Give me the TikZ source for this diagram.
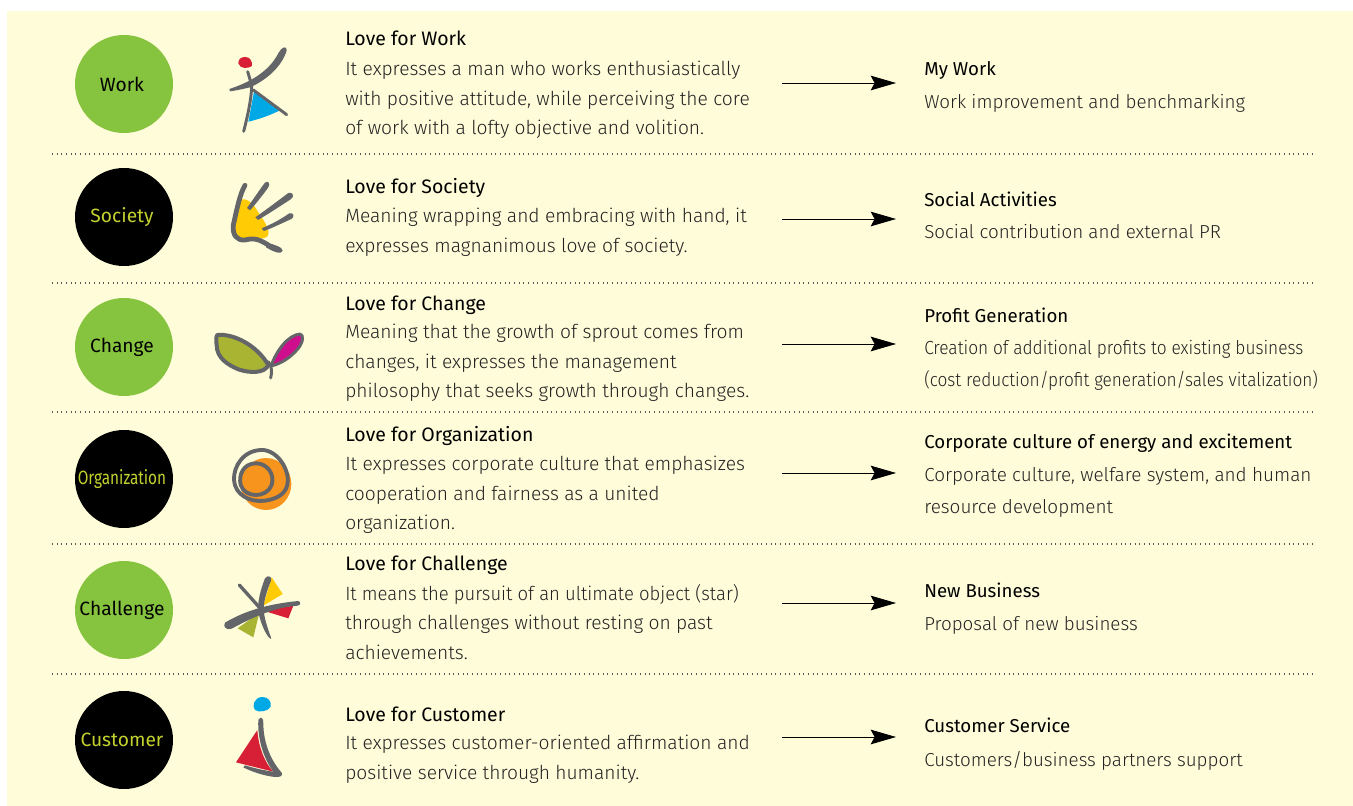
\documentclass[tikz,border=0pt]{standalone}
\usepackage{fontspec}
\setmainfont{Fira Sans}
\newfontfamily\lightfont{Fira Sans Light}
\usetikzlibrary{positioning,arrows.meta}
\definecolor{cream}{HTML}{FEFCD9}
\definecolor{leafgreen}{HTML}{86C440}
\definecolor{limetext}{HTML}{C3D12F}
\definecolor{inkgrey}{HTML}{636569}
\definecolor{skyblue}{HTML}{00A9E6}
\definecolor{redfill}{HTML}{D71F35}
\definecolor{sunyellow}{HTML}{FFCB05}
\definecolor{olivefill}{HTML}{A8B432}
\definecolor{magentafill}{HTML}{CE0E8C}
\definecolor{orangefill}{HTML}{F7941E}
\definecolor{bodytext}{HTML}{222222}
\begin{document}
\begin{tikzpicture}[x=.75pt,y=-.75pt,
  value/.style={circle,minimum size=73.5pt,inner sep=0pt,font=\fontsize{14.4}{16}\selectfont},
  greenvalue/.style={value,fill=leafgreen,text=black},
  blackvalue/.style={value,fill=black,text=limetext},
  title/.style={anchor=base west,inner sep=0pt,text=black,font=\fontsize{14.6}{16}\selectfont},
  titleright/.style={title,font=\fontsize{14}{16}\selectfont},
  body/.style={anchor=north west,inner sep=0pt,align=left,text=bodytext,font=\lightfont\fontsize{14.4}{22}\selectfont},
  bodyright/.style={body,font=\lightfont\fontsize{14.1}{22}\selectfont},
  bodywide/.style={body,font=\lightfont\fontsize{14.2}{24.3}\selectfont},
  sep/.style={dash pattern=on .8pt off 2.7pt,line width=.8pt,draw=black!65},
  link/.style={-{Stealth[length=19pt,width=11pt,inset=3pt]},line width=.6pt}]
\useasboundingbox (0,0) rectangle (1353,806);
\fill[cream] (7,11) rectangle (1353,806);
% values
\foreach \n/\lab/\y/\kind in {Work/Work/84/greenvalue,Society/Society/217/blackvalue,Change/Change/347/greenvalue,Organization/\scalebox{.8}[1]{Organization}/479/blackvalue,Challenge/Challenge/610/greenvalue,Customer/Customer/740/blackvalue} {
  \node[\kind] (\n) at (124,\y) {\lab\kern3pt};
}
% separators
\foreach \i/\y in {1/154,2/283,3/412,4/544,5/674} {
  \coordinate (S\i) at (52,\y);
  \coordinate (E\i) at (1314,\y);
  \draw[sep] (S\i) -- (E\i);
}
% arrows
\foreach \i/\y in {1/83,2/219,3/344,4/473,5/603,6/737} {
  \coordinate (A\i) at (782,\y);
  \coordinate (B\i) at (896,\y);
  \draw[link] (A\i) -- (B\i);
}
% middle column
\node[title] (T1) at (345,46) {Love for Work};
\node[body] (D1) at (345,61) {It expresses a man who works enthusiastically\\with positive attitude, while perceiving the core\\of work with a lofty objective and volition.};
\node[title] (T2) at (345,194) {Love for Society};
\node[body] (D2) at (345,208) {Meaning wrapping and embracing with hand, it\\expresses magnanimous love of society.};
\node[title] (T3) at (345,310) {Love for Change};
\node[body] (D3) at (345,324) {Meaning that the growth of sprout comes from\\changes, it expresses the management\\philosophy that seeks growth through changes.};
\node[title] (T4) at (345,441) {Love for Organization};
\node[body] (D4) at (345,456) {It expresses corporate culture that emphasizes\\cooperation and fairness as a united\\organization.};
\node[title] (T5) at (345,570) {Love for Challenge};
\node[body] (D5) at (345,584) {\scalebox{.962}[1]{It means the pursuit of an ultimate object (star)}\\through challenges without resting on past\\achievements.};
\node[title] (T6) at (345,721) {Love for Customer};
\node[body] (D6) at (345,735) {It expresses customer-oriented affirmation and\\positive service through humanity.};
% right column
\node[titleright] (R1) at (924,76) {My Work};
\node[bodyright] (Q1) at (924,94) {Work improvement and benchmarking};
\node[titleright] (R2) at (924,206) {Social Activities};
\node[bodyright] (Q2) at (924,224) {Social contribution and external PR};
\node[titleright] (R3) at (924,322) {Profit Generation};
\node[bodywide] (Q3) at (924,340) {\scalebox{.913}[1]{Creation of additional profits to existing business}\\\scalebox{.909}[1]{(cost reduction/profit generation/sales vitalization)}};
\node[titleright] (R4) at (924,448) {Corporate culture of energy and excitement};
\node[bodywide] (Q4) at (924,467) {Corporate culture, welfare system, and human\\resource development};
\node[titleright] (R5) at (924,597) {New Business};
\node[bodyright] (Q5) at (924,616) {Proposal of new business};
\node[titleright] (R6) at (924,732) {Customer Service};
\node[bodyright] (Q6) at (924,751) {Customers/business partners support};
% icon work
\begin{scope}[shift={(200,30)},scale=1/3]
\fill[redfill] (115,100) .. controls (115,85) and (125,81) .. (137,81) .. controls (150,82) and (157,92) .. (156,108) .. controls (145,116) and (120,118) .. (115,100) -- cycle;
\fill[inkgrey] (88,177) .. controls (140,160) and (205,130) .. (236,68) .. controls (245,50) and (262,46) .. (260,62) .. controls (245,110) and (200,150) .. (150,172) .. controls (125,178) and (105,182) .. (90,184) -- cycle;
\fill[skyblue] (162,185) -- (238,242) .. controls (205,258) and (175,268) .. (145,275) -- cycle;
\draw[inkgrey,line width=2.2pt,line cap=round] (143,125) -- (155,165) .. controls (155,200) and (145,250) .. (131,304);
\draw[inkgrey,line width=2.2pt,line cap=round] (160,180) -- (260,254);
\end{scope}
% icon society
\begin{scope}[shift={(200,30)},scale=1/3]
\fill[sunyellow] (125,508) .. controls (150,505) and (165,530) .. (180,555) .. controls (195,575) and (212,605) .. (203,618) .. controls (190,632) and (150,625) .. (110,622) .. controls (95,590) and (105,540) .. (125,508) -- cycle;
\draw[inkgrey,line width=3.6pt,line cap=round] (135,466) .. controls (120,490) and (110,540) .. (100,585) .. controls (97,615) and (110,632) .. (135,630) .. controls (165,622) and (180,630) .. (205,645);
\fill[inkgrey] (200,636) .. controls (220,645) and (248,650) .. (248,662) .. controls (245,674) and (225,668) .. (198,652) -- cycle;
\fill[inkgrey] (141,534) .. controls (160,508) and (178,480) .. (195,458) .. controls (205,450) and (212,462) .. (205,472) .. controls (187,497) and (167,522) .. (150,541) -- cycle;
\fill[inkgrey] (166,562) .. controls (200,538) and (240,508) .. (265,489) .. controls (280,484) and (284,502) .. (272,508) .. controls (235,532) and (200,555) .. (174,570) -- cycle;
\fill[inkgrey] (185,595) .. controls (215,583) and (245,566) .. (268,550) .. controls (281,546) and (285,562) .. (274,567) .. controls (245,580) and (215,595) .. (191,603) -- cycle;
\end{scope}
% icon change
\begin{scope}[shift={(200,290)},scale=1/3]
\filldraw[fill=olivefill,draw=inkgrey,line width=3pt,line join=round] (52,135) .. controls (100,130) and (170,165) .. (205,225) .. controls (195,250) and (150,250) .. (115,238) .. controls (85,225) and (50,205) .. (50,165) .. controls (48,150) and (48,140) .. (52,135) -- cycle;
\filldraw[fill=magentafill,draw=inkgrey,line width=2.2pt,line join=round] (213,228) .. controls (230,180) and (265,135) .. (300,132) .. controls (312,135) and (310,155) .. (295,175) .. controls (270,205) and (240,222) .. (213,228) -- cycle;
\draw[inkgrey,line width=2.2pt,line cap=round] (205,215) .. controls (215,228) and (217,245) .. (212,264);
\end{scope}
% icon organization
\begin{scope}[shift={(200,290)},scale=1/3]
\fill[orangefill] (198,582) ellipse (76 and 78);
\draw[inkgrey,line width=2.9pt] (190,480) .. controls (130,478) and (100,530) .. (102,570) .. controls (105,615) and (150,638) .. (195,632) .. controls (245,625) and (270,600) .. (262,555) .. controls (250,505) and (215,482) .. (190,480) -- cycle;
\draw[inkgrey,line width=2.9pt] (168,520) .. controls (130,520) and (115,555) .. (122,585) .. controls (135,625) and (200,625) .. (215,585) .. controls (225,550) and (200,520) .. (168,520) -- cycle;
\end{scope}
% icon challenge
\begin{scope}[shift={(200,550)},scale=1/3]
\fill[sunyellow] (215,82) -- (248,132) -- (190,167) -- cycle;
\fill[redfill] (190,182) -- (280,167) -- (265,205) -- cycle;
\fill[olivefill] (178,188) -- (160,262) -- (113,235) -- cycle;
\fill[inkgrey] (75,218) .. controls (130,185) and (200,162) .. (295,153) .. controls (303,155) and (303,167) .. (292,167) .. controls (230,172) and (170,195) .. (95,236) .. controls (78,242) and (68,230) .. (75,218) -- cycle;
\fill[inkgrey] (195,85) .. controls (205,72) and (218,82) .. (213,92) .. controls (202,120) and (187,160) .. (192,190) .. controls (197,220) and (207,245) .. (214,266) .. controls (205,270) and (183,225) .. (176,190) .. controls (170,160) and (183,115) .. (195,85) -- cycle;
\draw[inkgrey,line width=2.5pt,line cap=round] (118,105) -- (178,172);
\end{scope}
% icon customer
\begin{scope}[shift={(200,550)},scale=1/3]
\fill[skyblue] (186,441) .. controls (205,440) and (215,455) .. (212,470) .. controls (205,485) and (175,488) .. (165,480) .. controls (155,470) and (162,442) .. (186,441) -- cycle;
\fill[redfill] (172,540) .. controls (175,590) and (195,640) .. (220,665) -- (108,637) -- cycle;
\fill[inkgrey] (175,510) .. controls (182,496) and (191,505) .. (190,520) .. controls (190,570) and (207,625) .. (245,668) .. controls (250,678) and (240,682) .. (225,681) .. controls (190,677) and (155,665) .. (130,652) -- (135,646) .. controls (165,655) and (195,662) .. (220,665) .. controls (190,625) and (172,565) .. (175,510) -- cycle;
\end{scope}
\end{tikzpicture}
\end{document}
